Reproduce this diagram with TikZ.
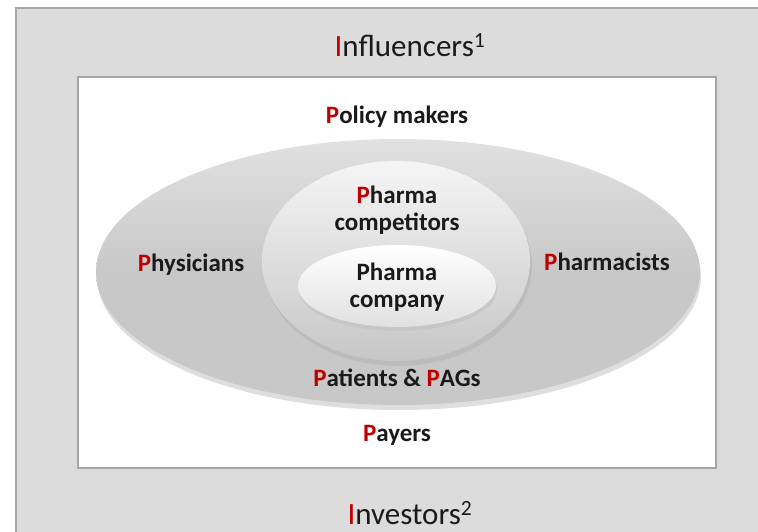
\documentclass[tikz,border=0pt]{standalone}
\usepackage{fontspec}
\setmainfont{Carlito}
\definecolor{outerfill}{HTML}{DCDCDC}
\definecolor{framegray}{HTML}{A6A6A6}
\definecolor{ringgray}{HTML}{C8C8C8}
\definecolor{pred}{HTML}{C00000}
\definecolor{txt}{HTML}{1A1A1A}
\tikzset{
  bigtitle/.style={font=\fontsize{31}{34}\selectfont, text=txt},
  lab/.style={font=\fontsize{25}{27}\selectfont\bfseries, text=txt, align=center},
}
\newcommand{\rp}[1]{\textcolor{pred}{#1}}
\begin{document}
\begin{tikzpicture}[x=1pt,y=-1pt]
\useasboundingbox (0,0) rectangle (758,532);
\clip (0,0) rectangle (758,532);
\fill[white] (0,0) rectangle (758,532);
% outer influencers frame
\draw[framegray, line width=1.5pt, fill=outerfill] (16,8) rectangle (775,545);
% inner white panel
\draw[framegray, line width=1.5pt, fill=white] (78,77) rectangle (716,468);
% large ellipse with shadow
\fill[black!25, opacity=0.5] (399,277) ellipse [x radius=302, y radius=133];
\shade[top color=ringgray!55, bottom color=ringgray, middle color=ringgray] (398,272) ellipse [x radius=302, y radius=133];
% middle ellipse
\fill[black!30, opacity=0.5] (398,266) ellipse [x radius=134, y radius=100];
\shade[top color=white!96!black, bottom color=black!22] (396,261) ellipse [x radius=134, y radius=100];
% inner ellipse
\fill[black!25, opacity=0.5] (398,290) ellipse [x radius=99, y radius=41];
\shade[top color=white, bottom color=black!12] (397,286) ellipse [x radius=99, y radius=41];
% texts
\node[bigtitle] (infl) at (410,45) {\rp{I}nfluencers\textsuperscript{1}};
\node[bigtitle] (inv) at (410,513) {\rp{I}nvestors\textsuperscript{2}};
\node[lab] (policy) at (397,117) {\rp{P}olicy makers};
\node[lab] (comp) at (397,210) {\rp{P}harma\\competitors};
\node[lab] (phys) at (191,265) {\rp{P}hysicians};
\node[lab] (pharm) at (607,262) {\rp{P}harmacists};
\node[lab] (company) at (397,287) {Pharma\\company};
\node[lab] (pat) at (397,378) {\rp{P}atients \& \rp{P}AGs};
\node[lab] (pay) at (397,435) {\rp{P}ayers};
\end{tikzpicture}
\end{document}
